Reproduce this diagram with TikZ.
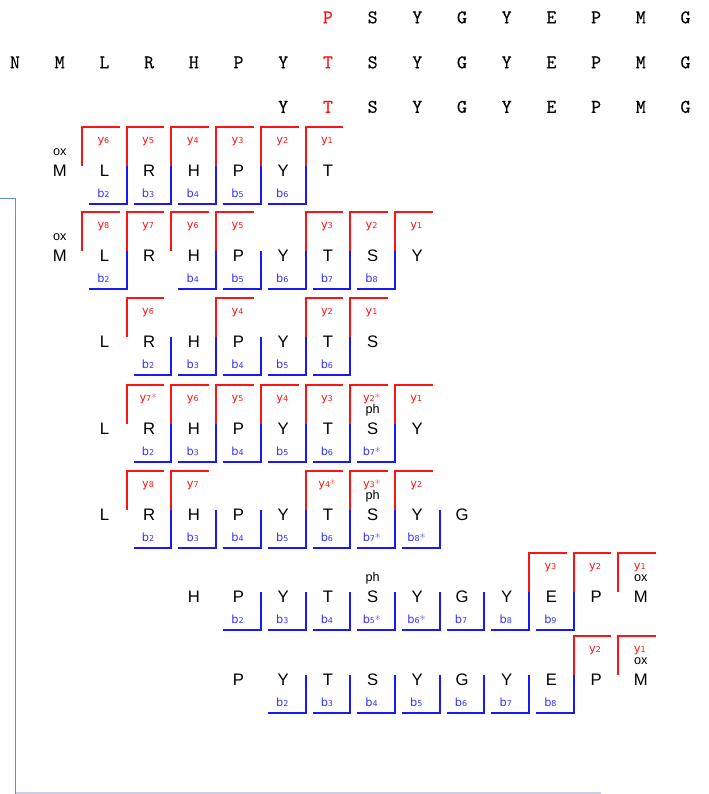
\documentclass[tikz,border=0pt]{standalone}
\usepackage{fontspec}
\setmainfont{Liberation Sans}
\newfontfamily\labfont{DejaVu Sans}
\newfontfamily\seqfont[FakeBold=0.5]{Latin Modern Mono}
\definecolor{yred}{RGB}{250,20,20}
\definecolor{bblue}{RGB}{25,25,245}
\definecolor{blab}{RGB}{50,50,255}
\definecolor{starred}{RGB}{255,120,120}
\definecolor{starblue}{RGB}{125,125,255}
\definecolor{frameblue}{RGB}{105,140,215}
\definecolor{framegray}{RGB}{200,208,225}
\newcommand{\subn}[1]{{\fontsize{6}{6}\selectfont #1}}
\newcommand{\ys}[1]{y\subn{#1}}
\newcommand{\ysx}[1]{y\subn{#1}\textcolor{starred}{\fontsize{8}{8}\selectfont *}}
\newcommand{\bs}[1]{b\subn{#1}}
\newcommand{\bsx}[1]{b\subn{#1}\textcolor{starblue}{\fontsize{8}{8}\selectfont *}}
\newcommand{\colx}[1]{15+44.7*#1}
\newcommand{\frag}[5]{%
  \foreach \c/\t in {#3} {\node[res] (#1r\c) at ({\colx{\c}},#2+6) {\t};}
  \foreach \c/\t in {#4} {%
    \node[ylab] (#1y\c) at ({\colx{\c}-1},#2-27) {\t};
    \draw[ybr] ({\colx{\c}-22.35},#2-4.5) -- ++(0,-39) -- ++(37.7,0);}
  \foreach \c/\t in {#5} {%
    \node[blabel] (#1b\c) at ({\colx{\c}-1},#2+27) {\t};
    \draw[bbr] ({\colx{\c}+22.35},#2-4.5) -- ++(0,38) -- ++(-37.7,0);}
}
\begin{document}
\begin{tikzpicture}[x=0.75pt,y=-0.75pt,
  res/.style={font=\fontsize{12.5}{12.5}\selectfont, inner sep=0, anchor=base},
  ylab/.style={text=yred, font=\labfont\fontsize{8.5}{8.5}\selectfont, inner sep=0, anchor=base},
  blabel/.style={text=blab, font=\labfont\fontsize{8.5}{8.5}\selectfont, inner sep=0, anchor=base},
  modl/.style={font=\fontsize{9.5}{9.5}\selectfont, inner sep=0, anchor=base},
  seq/.style={font=\seqfont\fontsize{14.5}{14.5}\selectfont, inner sep=0, anchor=base},
  hl/.style={seq, text=yred},
  ybr/.style={draw=yred, line width=1.5pt},
  bbr/.style={draw=bblue, line width=1.5pt}]
\useasboundingbox (0,0) rectangle (709,794);

% top sequences
\node[hl] (s1-7) at ({\colx{7}},23.3) {P};
\foreach \i/\l in {8/S,9/Y,10/G,11/Y,12/E,13/P,14/M,15/G}
  \node[seq] (s1-\i) at ({\colx{\i}},23.3) {\l};
\foreach \i/\l in {0/N,1/M,2/L,3/R,4/H,5/P,6/Y,8/S,9/Y,10/G,11/Y,12/E,13/P,14/M,15/G}
  \node[seq] (s2-\i) at ({\colx{\i}},68.3) {\l};
\node[hl] (s2-7) at ({\colx{7}},68.3) {T};
\foreach \i/\l in {6/Y,8/S,9/Y,10/G,11/Y,12/E,13/P,14/M,15/G}
  \node[seq] (s3-\i) at ({\colx{\i}},112.8) {\l};
\node[hl] (s3-7) at ({\colx{7}},112.8) {T};

% frame
\draw[frameblue, line width=1.2pt] (0,198.5) -- (15.5,198.5) -- (15.5,794);
\draw[framegray, line width=1.2pt] (15.5,793) -- (601,793);

% fragment rows
\frag{A}{170}{1/M,2/L,3/R,4/H,5/P,6/Y,7/T}
  {2/\ys{6},3/\ys{5},4/\ys{4},5/\ys{3},6/\ys{2},7/\ys{1}}
  {2/\bs{2},3/\bs{3},4/\bs{4},5/\bs{5},6/\bs{6}}
\node[modl] (Aox) at ({\colx{1}},155) {ox};

\frag{B}{255}{1/M,2/L,3/R,4/H,5/P,6/Y,7/T,8/S,9/Y}
  {2/\ys{8},3/\ys{7},4/\ys{6},5/\ys{5},7/\ys{3},8/\ys{2},9/\ys{1}}
  {2/\bs{2},4/\bs{4},5/\bs{5},6/\bs{6},7/\bs{7},8/\bs{8}}
\node[modl] (Box) at ({\colx{1}},240) {ox};

\frag{C}{341}{2/L,3/R,4/H,5/P,6/Y,7/T,8/S}
  {3/\ys{6},5/\ys{4},7/\ys{2},8/\ys{1}}
  {3/\bs{2},4/\bs{3},5/\bs{4},6/\bs{5},7/\bs{6}}

\frag{D}{428}{2/L,3/R,4/H,5/P,6/Y,7/T,8/S,9/Y}
  {3/\ysx{7},4/\ys{6},5/\ys{5},6/\ys{4},7/\ys{3},8/\ysx{2},9/\ys{1}}
  {3/\bs{2},4/\bs{3},5/\bs{4},6/\bs{5},7/\bs{6},8/\bsx{7}}
\node[modl] (Dph) at ({\colx{8}},413) {ph};

\frag{E}{514}{2/L,3/R,4/H,5/P,6/Y,7/T,8/S,9/Y,10/G}
  {3/\ys{8},4/\ys{7},7/\ysx{4},8/\ysx{3},9/\ys{2}}
  {3/\bs{2},4/\bs{3},5/\bs{4},6/\bs{5},7/\bs{6},8/\bsx{7},9/\bsx{8}}
\node[modl] (Eph) at ({\colx{8}},499) {ph};

\frag{F}{596}{4/H,5/P,6/Y,7/T,8/S,9/Y,10/G,11/Y,12/E,13/P,14/M}
  {12/\ys{3},13/\ys{2},14/\ys{1}}
  {5/\bs{2},6/\bs{3},7/\bs{4},8/\bsx{5},9/\bsx{6},10/\bs{7},11/\bs{8},12/\bs{9}}
\node[modl] (Fph) at ({\colx{8}},581) {ph};
\node[modl] (Fox) at ({\colx{14}},581) {ox};

\frag{G}{679}{5/P,6/Y,7/T,8/S,9/Y,10/G,11/Y,12/E,13/P,14/M}
  {13/\ys{2},14/\ys{1}}
  {6/\bs{2},7/\bs{3},8/\bs{4},9/\bs{5},10/\bs{6},11/\bs{7},12/\bs{8}}
\node[modl] (Gox) at ({\colx{14}},664) {ox};
\end{tikzpicture}
\end{document}
